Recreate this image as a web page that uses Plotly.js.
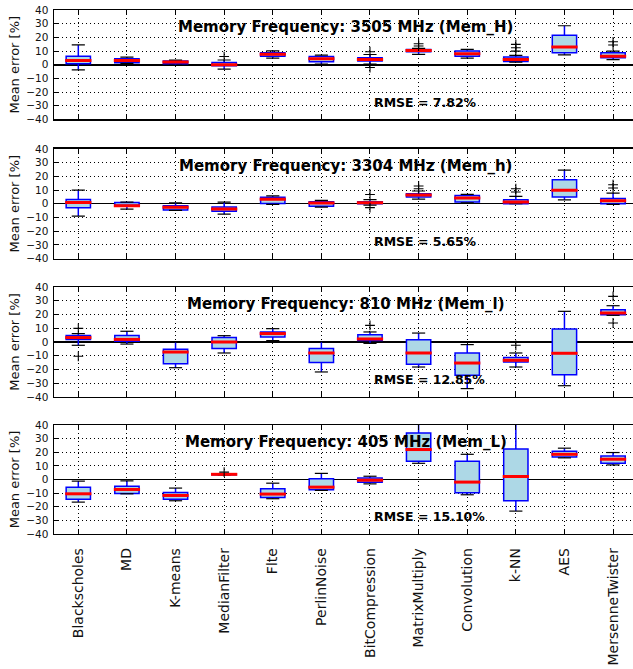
<!DOCTYPE html>
<html><head><meta charset="utf-8">
<script src="https://cdn.plot.ly/plotly-3.0.1.min.js"></script>
<style>html,body{margin:0;padding:0;background:#fff;overflow:hidden}#chart{width:633px;height:669px}</style>
</head><body><div id="chart"></div><script>
const categories = ["Blackscholes","MD","K-means","MedianFilter","Flte","PerlinNoise","BitCompression","MatrixMultiply","Convolution","k-NN","AES","MersenneTwister"];
const yTicks = [-40,-30,-20,-10,0,10,20,30,40];
const panelTitles = ["Memory Frequency: 3505 MHz (Mem_H)","Memory Frequency: 3304 MHz (Mem_h)","Memory Frequency: 810 MHz (Mem_l)","Memory Frequency: 405 MHz (Mem_L)"];
const rmseLabels = ["RMSE = 7.82%","RMSE = 5.65%","RMSE = 12.85%","RMSE = 15.10%"];

// 3505 MHz (Mem_H)
const f3505_q1  = [0.7, 1.5, 0.7, -0.7, 6.3, 2.2, 2.7, 9.5, 6.3, 2.4, 8.8, 5.1];
const f3505_med = [3.2, 3.2, 2.0, 0.0, 7.6, 4.4, 3.9, 10.5, 8.0, 3.9, 12.9, 6.3];
const f3505_q3  = [6.3, 4.4, 2.7, 1.7, 8.8, 6.0, 5.1, 11.2, 10.0, 5.6, 21.5, 8.8];
const f3505_lo  = [-3.7, 1.0, -0.5, -3.2, 4.9, 0.5, 0.5, 7.6, 4.9, 2.0, 7.3, 3.7];
const f3505_hi  = [14.5, 5.6, 3.4, 3.5, 10.2, 7.0, 7.5, 12.0, 11.2, 6.8, 28.5, 10.0];
const f3505_outCat = [3, 6, 6, 7, 7, 9, 9, 9, 11, 11];
const f3505_outVal = [6.0, 9.5, -2.0, 15.4, 13.7, 14.9, 12.4, 10.0, 16.8, 14.4];

// 3304 MHz (Mem_h)
const f3304_q1  = [-2.9, -1.9, -4.5, -5.5, 0.2, -1.9, 0.0, 4.9, 1.2, 0.0, 4.9, 0.0];
const f3304_med = [1.0, -1.4, -2.6, -3.8, 3.3, 0.5, 0.7, 6.4, 4.2, 1.2, 9.8, 2.2];
const f3304_q3  = [3.1, 1.0, -1.4, -2.4, 4.8, 1.4, 1.5, 7.3, 6.1, 2.9, 17.6, 3.9];
const f3304_lo  = [-9.0, -4.0, -4.8, -7.6, -0.5, -2.5, -1.0, 3.4, 0.7, 0.0, 2.9, -0.5];
const f3304_hi  = [10.0, 1.2, 0.7, 1.2, 5.7, 2.5, 3.0, 9.3, 6.8, 5.4, 24.6, 7.8];
const f3304_outCat = [6, 6, 7, 7, 9, 9, 11, 11];
const f3304_outVal = [6.8, -2.8, 13.0, 11.0, 11.0, 8.6, 13.9, 11.5];

// 810 MHz (Mem_l)
const f810_q1  = [1.9, 0.5, -15.8, -4.8, 3.6, -15.0, 1.0, -16.2, -24.2, -14.5, -23.8, 19.9];
const f810_med = [3.2, 1.9, -7.3, 0.0, 6.1, -8.0, 2.2, -8.0, -15.3, -13.3, -8.2, 21.1];
const f810_q3  = [4.8, 4.8, -5.3, 3.2, 7.3, -4.8, 5.3, 1.7, -8.0, -11.2, 9.5, 23.5];
const f810_lo  = [-2.4, -1.5, -18.7, -8.0, 1.0, -21.8, -1.0, -18.2, -33.9, -18.2, -31.8, 19.4];
const f810_hi  = [6.1, 7.8, 0.0, 4.6, 9.7, 0.2, 7.3, 6.5, -1.9, -8.0, 22.3, 26.4];
const f810_outCat = [0, 0, 6, 9, 11, 11];
const f810_outVal = [9.9, -10.4, 12.1, -2.4, 33.2, 13.8];

// 405 MHz (Mem_L)
const f405_q1  = [-14.4, -10.2, -14.4, 3.5, -13.2, -7.6, -2.0, 13.4, -9.8, -15.6, 16.6, 12.0];
const f405_med = [-10.5, -7.3, -11.7, 3.8, -10.7, -5.6, -0.5, 22.0, -1.9, 2.2, 18.5, 14.9];
const f405_q3  = [-5.6, -4.9, -9.5, 4.0, -6.8, 0.5, 1.2, 34.1, 13.4, 22.4, 20.7, 17.3];
const f405_lo  = [-16.6, -10.5, -15.6, 3.3, -14.1, -8.0, -3.2, 11.9, -11.2, -23.2, 15.9, 10.7];
const f405_hi  = [-1.2, -1.0, -6.3, 4.3, -2.7, 4.5, 2.4, 41.0, 18.5, 41.0, 23.0, 19.8];
const f405_outCat = [3];
const f405_outVal = [5.4];

const panels = [
  {q1:f3505_q1, med:f3505_med, q3:f3505_q3, lo:f3505_lo, hi:f3505_hi, oc:f3505_outCat, ov:f3505_outVal},
  {q1:f3304_q1, med:f3304_med, q3:f3304_q3, lo:f3304_lo, hi:f3304_hi, oc:f3304_outCat, ov:f3304_outVal},
  {q1:f810_q1, med:f810_med, q3:f810_q3, lo:f810_lo, hi:f810_hi, oc:f810_outCat, ov:f810_outVal},
  {q1:f405_q1, med:f405_med, q3:f405_q3, lo:f405_lo, hi:f405_hi, oc:f405_outCat, ov:f405_outVal}
];
const domains = [[0.8214,0.985],[0.6136,0.7773],[0.4066,0.571],[0.2018,0.3647]];
const idx = categories.map((c,i)=>i);

function segs(vals, half){
  const x=[], y=[];
  vals.forEach((v,i)=>{ x.push(i-half, i+half, null); y.push(v, v, null); });
  return {x, y};
}

const data = [];
const layout = {
  width:633, height:669,
  margin:{l:54, r:0, t:0, b:0},
  paper_bgcolor:'white', plot_bgcolor:'white',
  showlegend:false,
  font:{family:'DejaVu Sans', color:'#111'},
  annotations:[]
};

panels.forEach((p,k)=>{
  const s = k===0 ? '' : String(k+1);
  const xa = 'x'+s, ya = 'y'+s;
  data.push({
    type:'box', x:idx, q1:p.q1, median:p.med, q3:p.q3, lowerfence:p.lo, upperfence:p.hi,
    width:0.5, whiskerwidth:0, boxpoints:false,
    fillcolor:'#add8e6', line:{color:'#0000ff', width:1.5},
    xaxis:xa, yaxis:ya, hoverinfo:'skip'
  });
  const lc = segs(p.lo, 0.135), hc = segs(p.hi, 0.135);
  data.push({type:'scatter', mode:'lines', x:lc.x.concat(hc.x), y:lc.y.concat(hc.y),
    line:{color:'black', width:1.2}, xaxis:xa, yaxis:ya, hoverinfo:'skip'});
  const md = segs(p.med, 0.27);
  data.push({type:'scatter', mode:'lines', x:md.x, y:md.y,
    line:{color:'#ff0000', width:3}, xaxis:xa, yaxis:ya, hoverinfo:'skip'});
  data.push({type:'scatter', mode:'markers', x:p.oc, y:p.ov,
    marker:{symbol:'cross-thin-open', size:7, line:{color:'black', width:1.1}, color:'black'},
    xaxis:xa, yaxis:ya, hoverinfo:'skip'});

  layout['xaxis'+s] = {
    domain:[0,1], range:[-0.5, 11.41], anchor:ya,
    tickmode:'array', tickvals:idx, ticktext:categories,
    showticklabels:k===3, tickangle:-90, tickfont:{size:14, color:'#111'},
    ticklabelstandoff:7,
    ticks:'inside', ticklen:5, tickcolor:'black', tickwidth:1,
    showline:true, linecolor:'black', linewidth:1.5, mirror:'ticks',
    showgrid:true, gridcolor:'black', gridwidth:1, griddash:'1px,3px',
    zeroline:false, automargin:false, fixedrange:true
  };
  layout['yaxis'+s] = {
    domain:domains[k], range:[-40,40], anchor:xa,
    tickmode:'array', tickvals:yTicks,
    tickfont:{size:10.5, color:'#111'},
    ticks:'inside', ticklen:5, tickcolor:'black', tickwidth:1,
    ticklabelstandoff:2,
    showline:true, linecolor:'black', linewidth:1.5, mirror:false,
    showgrid:true, gridcolor:'black', gridwidth:1, griddash:'1px,3px',
    zeroline:true, zerolinecolor:'black', zerolinewidth:1.5,
    title:{text:'Mean error [%]', font:{size:13, color:'#111'}, standoff:3},
    automargin:false, fixedrange:true
  };
  layout.annotations.push({
    xref:xa, yref:ya, x:5.5, y:27.5, xanchor:'center', yanchor:'middle',
    text:'<b>'+panelTitles[k]+'</b>', showarrow:false,
    font:{size:15, family:'DejaVu Sans', color:'black'}
  });
  layout.annotations.push({
    xref:xa, yref:ya, x:6.05, y:-27.5, xanchor:'left', yanchor:'middle',
    text:'<b>'+rmseLabels[k]+'</b>', showarrow:false,
    font:{size:12.5, family:'DejaVu Sans', color:'black'}
  });
});

Plotly.newPlot('chart', data, layout, {staticPlot:true, displayModeBar:false});
</script></body></html>
